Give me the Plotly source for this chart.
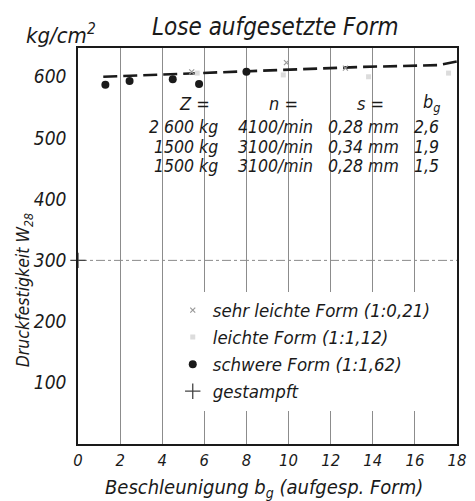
import plotly.graph_objects as go

# ---- data ----
x_ticks = [0, 2, 4, 6, 8, 10, 12, 14, 16, 18]
x_ticklabels = ["0", "2", "4", "6", "8", "10", "12", "14", "16", "18"]
y_ticks = [100, 200, 300, 400, 500, 600]
y_ticklabels = ["100", "200", "300", "400", "500", "600"]

sehr_leicht_x = [5.4, 9.9, 12.7]
sehr_leicht_y = [608, 623, 614]
leicht_x = [5.66, 9.75, 13.8, 17.6]
leicht_y = [606, 603, 600, 606]
schwer_x = [1.3, 2.45, 4.5, 5.75, 8.0]
schwer_y = [587, 593, 596, 588, 608]
gestampft_x = [0]
gestampft_y = [300]
trend_x = [1.2, 8.0, 13.4, 17.1, 18.0]
trend_y = [600, 609, 616, 619, 625]
ref_level = [300]

table_head = ["Z =", "n =", "s =", "b<sub>g</sub>"]
table_Z = ["2 600 kg", "1500 kg", "1500 kg"]
table_n = ["4100/min", "3100/min", "3100/min"]
table_s = ["0,28 mm", "0,34 mm", "0,28 mm"]
table_bg = ["2,6", "1,9", "1,5"]

legend_names = ["sehr leichte Form (1:0,21)", "leichte Form (1:1,12)",
                "schwere Form (1:1,62)", "gestampft"]

FONT = "DejaVu Sans Condensed, Liberation Sans Narrow, DejaVu Sans, sans-serif"
INK = "#1a1a1a"

fig = go.Figure()

fig.add_trace(go.Scatter(x=trend_x, y=trend_y, mode="lines", showlegend=False,
                         line=dict(color=INK, width=2.6, dash="14px,6px"),
                         hoverinfo="skip"))
fig.add_trace(go.Scatter(x=sehr_leicht_x, y=sehr_leicht_y, mode="markers",
                         name=legend_names[0],
                         marker=dict(symbol="x-thin", size=5, color="#9a9a9a",
                                     line=dict(width=1.2, color="#9a9a9a"))))
fig.add_trace(go.Scatter(x=leicht_x, y=leicht_y, mode="markers",
                         name=legend_names[1],
                         marker=dict(symbol="square", size=5, color="#dcdcdc")))
fig.add_trace(go.Scatter(x=schwer_x, y=schwer_y, mode="markers",
                         name=legend_names[2],
                         marker=dict(symbol="circle", size=8, color=INK)))
fig.add_trace(go.Scatter(x=gestampft_x, y=gestampft_y, mode="markers",
                         name=legend_names[3], cliponaxis=False,
                         marker=dict(symbol="cross-thin", size=11, color="#444",
                                     line=dict(width=1.3, color="#444"))))

for lv in ref_level:
    fig.add_hline(y=lv, line=dict(color="#8a8a8a", width=1, dash="dashdot"),
                  layer="below")

# white patch behind the parameter table (gridlines are hidden there)
fig.add_shape(type="rect", xref="paper", yref="paper", x0=0.25, x1=0.99,
              y0=0.685, y1=0.89, fillcolor="white", line=dict(width=0),
              layer="between")

ann = []
def txt(text, x, y, size, xanchor="center", angle=0):
    ann.append(dict(text=text, x=x, y=y, xref="paper", yref="paper",
                    showarrow=False, xanchor=xanchor, yanchor="middle",
                    textangle=angle,
                    font=dict(family=FONT, size=size, color=INK, style="italic")))

txt("Lose aufgesetzte Form", 0.52, 1.053, 24)
txt("kg/cm<sup>2</sup>", -0.044, 1.036, 22)
txt("Beschleunigung b<sub>g</sub> (aufgesp. Form)", 0.49, -0.111, 20)
txt("Druckfestigkeit W<sub>28</sub>", -0.139, 0.389, 17.5, angle=-90)

head_x = [0.307, 0.541, 0.773, 0.933]
for h, hx in zip(table_head, head_x):
    txt(h, hx, 0.861, 18)
row_y = [0.800, 0.750, 0.702]
for i, ry in enumerate(row_y):
    txt(table_Z[i], 0.375, ry, 17.5, xanchor="right")
    txt(table_n[i], 0.52, ry, 17.5)
    txt(table_s[i], 0.753, ry, 17.5)
    txt(table_bg[i], 0.92, ry, 17.5)

# the page adds an 8px body margin, so the figure is made 8px smaller
fig.update_layout(
    width=467, height=493,
    margin=dict(l=70, r=9, t=40, b=57),
    paper_bgcolor="white", plot_bgcolor="white",
    font=dict(family=FONT, color=INK),
    annotations=ann,
    legend=dict(x=0.25, y=0.385, xanchor="left", yanchor="top",
                bgcolor="white", borderwidth=0, tracegroupgap=0,
                font=dict(family=FONT, size=18.5, color=INK, style="italic")),
    xaxis=dict(range=[0, 18], tickvals=x_ticks, ticktext=x_ticklabels,
               showgrid=True, gridcolor="#8c8c8c", gridwidth=1,
               showline=True, linecolor=INK, linewidth=1.6, mirror=True,
               ticks="", zeroline=False,
               tickfont=dict(family=FONT, size=16.5, color=INK, style="italic")),
    yaxis=dict(range=[0, 647], tickvals=y_ticks, ticktext=y_ticklabels,
               showgrid=False,
               showline=True, linecolor=INK, linewidth=1.6, mirror=True,
               ticks="", zeroline=False, ticklabelstandoff=6,
               tickfont=dict(family=FONT, size=19, color=INK, style="italic")),
    showlegend=True,
)

fig.write_html("out.html")
